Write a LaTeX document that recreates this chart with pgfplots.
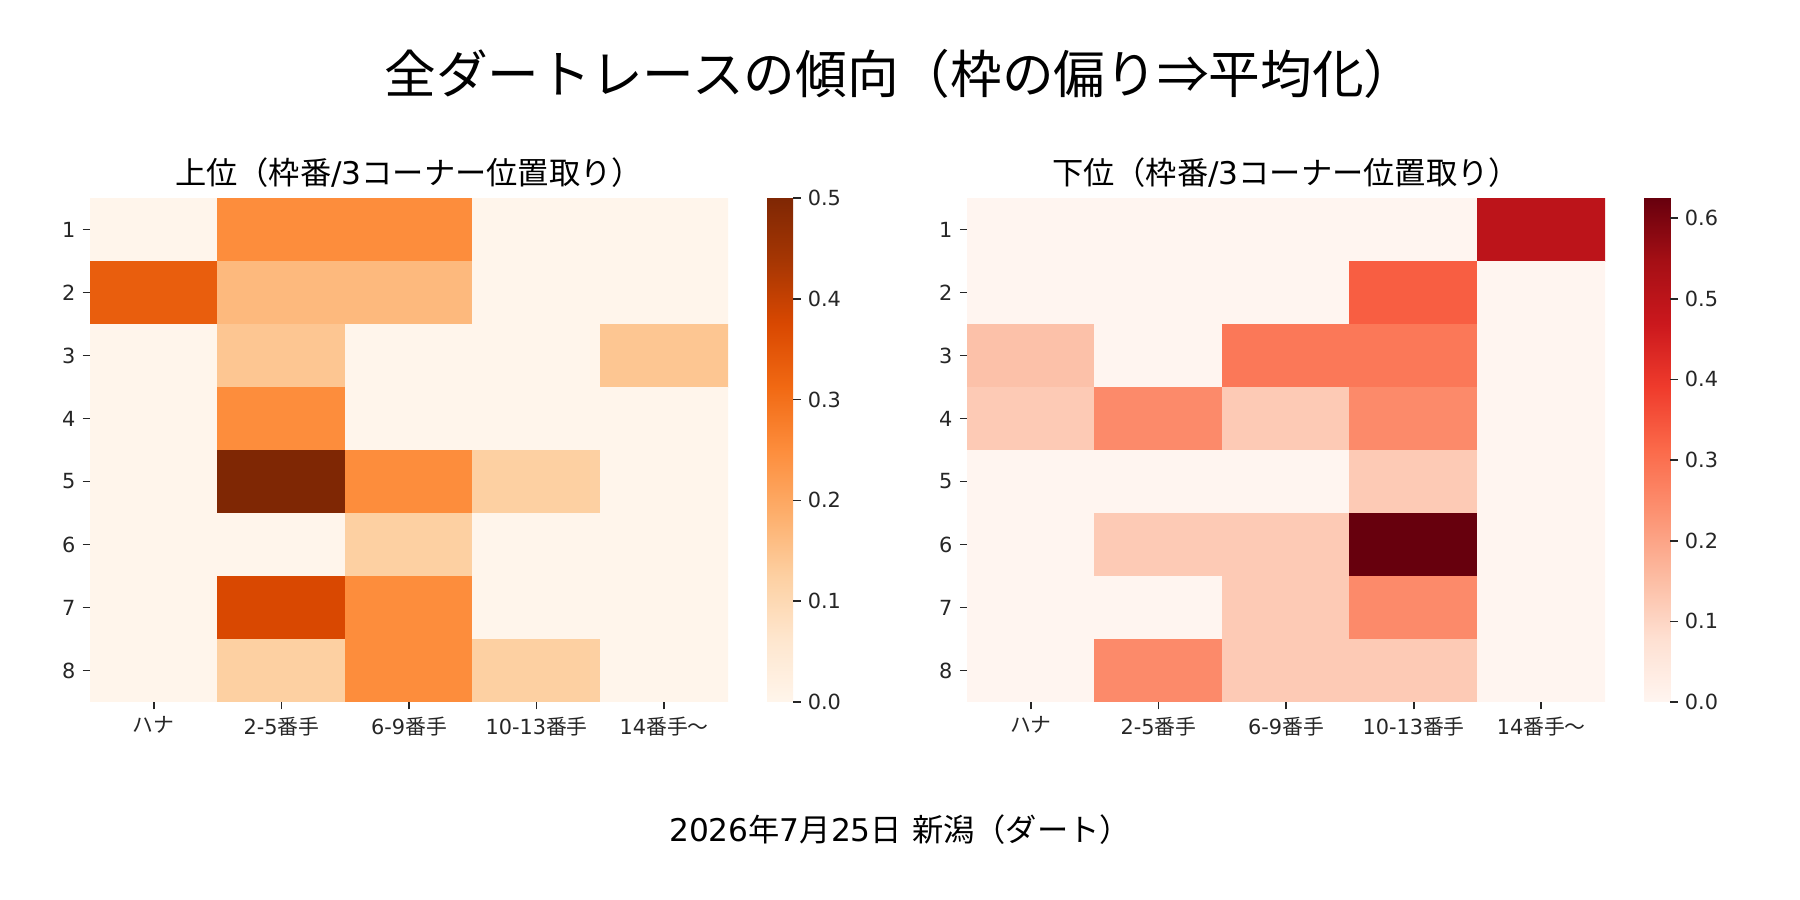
\documentclass[border=0pt]{standalone}
\usepackage{fontspec}
\setmainfont{DejaVu Sans}
\newfontfamily\cjk{Noto Sans CJK JP}
\usepackage{pgfplots}
\pgfplotsset{compat=1.18}
\usepackage{pgfplotstable}

% columns: x = position class (0..4), r = frame number (1..8), z = share
\pgfplotstableread{
x r z
0 1 0
1 1 0.25
2 1 0.25
3 1 0
4 1 0
0 2 0.3333
1 2 0.1667
2 2 0.1667
3 2 0
4 2 0
0 3 0
1 3 0.1429
2 3 0
3 3 0
4 3 0.1429
0 4 0
1 4 0.25
2 4 0
3 4 0
4 4 0
0 5 0
1 5 0.5
2 5 0.25
3 5 0.125
4 5 0
0 6 0
1 6 0
2 6 0.125
3 6 0
4 6 0
0 7 0
1 7 0.375
2 7 0.25
3 7 0
4 7 0
0 8 0
1 8 0.125
2 8 0.25
3 8 0.125
4 8 0
}\topdata

\pgfplotstableread{
x r z
0 1 0
1 1 0
2 1 0
3 1 0
4 1 0.5
0 2 0
1 2 0
2 2 0
3 2 0.3333
4 2 0
0 3 0.1429
1 3 0
2 3 0.2857
3 3 0.2857
4 3 0
0 4 0.125
1 4 0.25
2 4 0.125
3 4 0.25
4 4 0
0 5 0
1 5 0
2 5 0
3 5 0.125
4 5 0
0 6 0
1 6 0.125
2 6 0.125
3 6 0.625
4 6 0
0 7 0
1 7 0
2 7 0.125
3 7 0.25
4 7 0
0 8 0
1 8 0.25
2 8 0.125
3 8 0.125
4 8 0
}\bottomdata

\definecolor{tickgray}{RGB}{38,38,38}

\pgfplotsset{
  heat/.style={
    scale only axis, width=306.24bp, height=241.92bp,
    anchor=south west,
    xmin=-0.5, xmax=4.5, ymin=0.5, ymax=8.5,
    axis line style={draw=none},
    xtick={0,1,2,3,4},
    xticklabels={{\cjk ハナ},2-5{\cjk 番手},6-9{\cjk 番手},10-13{\cjk 番手},14{\cjk 番手〜}},
    ytick={1,2,3,4,5,6,7,8},
    yticklabels={8,7,6,5,4,3,2,1},
    xtick pos=left, ytick pos=left,
    tick align=outside, major tick length=3.5bp,
    tick style={line width=0.8bp, color=tickgray},
    ticklabel style={font=\fontsize{10bp}{12bp}\selectfont, text=tickgray},
    /pgf/number format/assume math mode=true,
    colorbar,
  },
  cbar/.style={
    scale only axis, width=12.48bp, height=241.92bp,
    at={(parent axis.north east)}, anchor=north west, xshift=10.3bp,
    axis line style={draw=none},
    xtick=\empty,
    ytick pos=right, yticklabel pos=right,
    tick align=outside, major tick length=3.5bp,
    tick style={line width=0.8bp, color=tickgray},
    yticklabel style={font=\fontsize{10bp}{12bp}\selectfont, text=tickgray,
      /pgf/number format/fixed, /pgf/number format/fixed zerofill,
      /pgf/number format/precision=1},
    /pgf/number format/assume math mode=true,
  },
}

\begin{document}
\begin{tikzpicture}[x=0.48bp, y=0.48bp]
\useasboundingbox (0,0) rectangle (1800,900);

\node[font=\fontsize{24.8bp}{28bp}\cjk] at (900,826) {全ダートレースの傾向（枠の偏り⇒平均化）};
\node[font=\fontsize{15bp}{18bp}\selectfont] at (409,727) {{\cjk 上位（枠番}/3{\cjk コーナー位置取り）}};
\node[font=\fontsize{15bp}{18bp}\selectfont] at (1286,727) {{\cjk 下位（枠番}/3{\cjk コーナー位置取り）}};
\node[font=\fontsize{15bp}{18bp}\selectfont] at (900,70) {2026{\cjk 年}7{\cjk 月}25{\cjk 日} {\cjk 新潟（ダート）}};

\begin{axis}[heat, at={(43.2bp,95.04bp)},
  colormap={oranges}{rgb255=(255,245,235) rgb255=(254,230,206) rgb255=(253,208,162) rgb255=(253,174,107) rgb255=(253,141,60) rgb255=(241,105,19) rgb255=(217,72,1) rgb255=(166,54,3) rgb255=(127,39,4)},
  point meta min=0, point meta max=0.5,
  colorbar style={cbar, ytick={0,0.1,0.2,0.3,0.4,0.5}},
]
\addplot[matrix plot*, mesh/cols=5, mesh/rows=8, point meta=explicit]
  table[x=x, y expr=9-\thisrow{r}, meta=z] {\topdata};
\end{axis}

\begin{axis}[heat, at={(464.16bp,95.04bp)},
  colormap={reds}{rgb255=(255,245,240) rgb255=(254,224,210) rgb255=(252,187,161) rgb255=(252,146,114) rgb255=(251,106,74) rgb255=(239,59,44) rgb255=(203,24,29) rgb255=(165,15,21) rgb255=(103,0,13)},
  point meta min=0, point meta max=0.625,
  colorbar style={cbar, ytick={0,0.1,0.2,0.3,0.4,0.5,0.6}},
]
\addplot[matrix plot*, mesh/cols=5, mesh/rows=8, point meta=explicit]
  table[x=x, y expr=9-\thisrow{r}, meta=z] {\bottomdata};
\end{axis}
\end{tikzpicture}
\end{document}
